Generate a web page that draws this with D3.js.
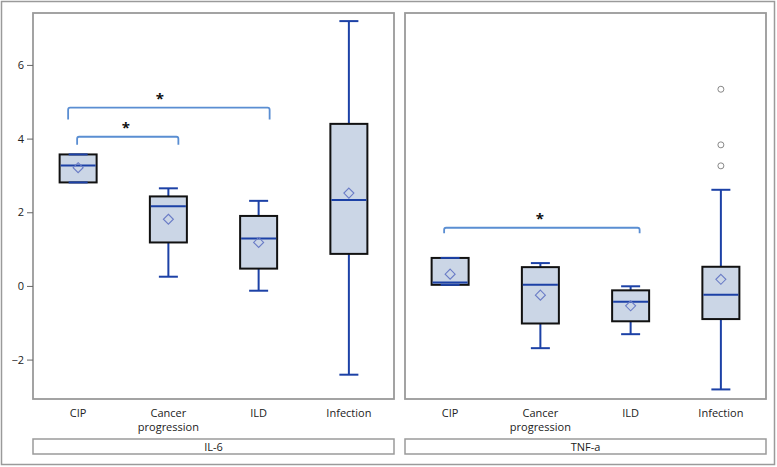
<!DOCTYPE html>
<html><head><meta charset="utf-8">
<script src="https://cdn.jsdelivr.net/npm/d3@7"></script>
<style>body{margin:0;background:#fff}svg{display:block}text{font-family:"Open Sans",Arial,sans-serif;fill:#222}</style>
</head><body><svg id="c" width="777" height="467"></svg>
<script>
const categories = ["CIP","Cancer progression","ILD","Infection"];
const panels = ["IL-6","TNF-a"];
const yTicks = [-2,0,2,4,6];
// [min, q1, median, q3, max, mean]
const il6Stats = [
  [2.81, 2.81, 3.27, 3.57, 3.57, 3.21],
  [0.25, 1.18, 2.16, 2.43, 2.65, 1.81],
  [-0.13, 0.47, 1.29, 1.90, 2.31, 1.18],
  [-2.41, 0.87, 2.33, 4.40, 7.19, 2.52]
];
const tnfStats = [
  [0.03, 0.03, 0.09, 0.76, 0.76, 0.32],
  [-1.69, -1.02, 0.03, 0.51, 0.62, -0.25],
  [-1.31, -0.96, -0.43, -0.12, -0.01, -0.54],
  [-2.81, -0.90, -0.24, 0.52, 2.61, 0.18]
];
const il6Outliers = [[],[],[],[]];
const tnfOutliers = [[],[],[],[5.34, 3.83, 3.26]];
// brackets: [fromCategory, toCategory, topValue, legValue]
const il6Brackets = [[0, 2, 4.84, 4.52], [0, 1, 4.05, 3.83]];
const tnfBrackets = [[0, 2, 1.58, 1.43]];
const bracketLabel = "*";

const svg = d3.select("#c");
const W = 777, H = 467;
const grey = "#9a9a9a";
svg.append("rect").attr("x",1.5).attr("y",1.5).attr("width",W-4).attr("height",H-4)
  .attr("fill","none").attr("stroke",grey).attr("stroke-width",1.5);

const plotTop = 13, plotBottom = 399;
const y = d3.scaleLinear().domain([-3.07, 7.41]).range([plotBottom, plotTop]);
const panelX = [[33, 394], [405, 766]];
const data = [
  {stats: il6Stats, outliers: il6Outliers, brackets: il6Brackets},
  {stats: tnfStats, outliers: tnfOutliers, brackets: tnfBrackets}
];
const whiskColor = "#1c41a6", boxFill = "#cbd6e6", bracketColor = "#5a8ed2", diamondColor = "#6a7cc6";

panels.forEach((pname, pi) => {
  const [x0, x1] = panelX[pi];
  const x = d3.scaleBand().domain(categories).range([x0, x1]).paddingInner(0).paddingOuter(0);
  const g = svg.append("g");
  g.append("rect").attr("x",x0).attr("y",plotTop).attr("width",x1-x0).attr("height",plotBottom-plotTop)
    .attr("fill","#fff").attr("stroke",grey).attr("stroke-width",1.8);
  const bw = 37, cw = 19;
  const d = data[pi];
  d.stats.forEach((s, i) => {
    const cx = x(categories[i]) + x.bandwidth()/2;
    const [mn, q1, md, q3, mx, mean] = s;
    g.append("line").attr("x1",cx).attr("x2",cx).attr("y1",y(q3)).attr("y2",y(mx)).attr("stroke",whiskColor).attr("stroke-width",2);
    g.append("line").attr("x1",cx).attr("x2",cx).attr("y1",y(q1)).attr("y2",y(mn)).attr("stroke",whiskColor).attr("stroke-width",2);
    g.append("rect").attr("x",cx-bw/2).attr("y",y(q3)).attr("width",bw).attr("height",y(q1)-y(q3))
      .attr("fill",boxFill).attr("stroke","#111").attr("stroke-width",2);
    [mn, mx].forEach(v => g.append("line").attr("x1",cx-cw/2).attr("x2",cx+cw/2).attr("y1",y(v)).attr("y2",y(v))
      .attr("stroke",whiskColor).attr("stroke-width",2));
    g.append("line").attr("x1",cx-bw/2+1).attr("x2",cx+bw/2-1).attr("y1",y(md)).attr("y2",y(md)).attr("stroke",whiskColor).attr("stroke-width",2);
    const my = y(mean), r = 5;
    g.append("path").attr("d",`M${cx},${my-r}L${cx+r},${my}L${cx},${my+r}L${cx-r},${my}Z`)
      .attr("fill","none").attr("stroke",diamondColor).attr("stroke-width",1.1);
    d.outliers[i].forEach(v => g.append("circle").attr("cx",cx).attr("cy",y(v)).attr("r",3)
      .attr("fill","none").attr("stroke","#888").attr("stroke-width",1));
  });
  d.brackets.forEach(b => {
    const [a, c, tv, lv] = b;
    const wide = pi===0 && c===2;
    const xa = x(categories[a]) + x.bandwidth()/2 - (wide ? 10 : (pi===0 ? 1 : 6));
    const xc = x(categories[c]) + x.bandwidth()/2 + (wide ? 11 : (pi===0 ? 10 : 9));
    g.append("path").attr("d",`M${xa},${y(lv)}V${y(tv)+2}Q${xa},${y(tv)} ${xa+2},${y(tv)}H${xc-2}Q${xc},${y(tv)} ${xc},${y(tv)+2}V${y(lv)}`)
      .attr("fill","none").attr("stroke",bracketColor).attr("stroke-width",1.8);
    g.append("text").attr("x",(xa+xc)/2 + (wide ? -9 : -2)).attr("y",y(tv)-4).attr("text-anchor","middle")
      .attr("font-size",15).attr("font-weight","bold").style("fill","#111").text(bracketLabel);
  });
  categories.forEach(cname => {
    const cx = x(cname) + x.bandwidth()/2;
    const words = cname === "Cancer progression" ? ["Cancer","progression"] : [cname];
    const t = g.append("text").attr("x",cx).attr("y",417).attr("text-anchor","middle").attr("font-size",11);
    words.forEach((w, k) => t.append("tspan").attr("x",cx).attr("dy",k?14:0).text(w));
  });
  g.append("rect").attr("x",x0).attr("y",439).attr("width",x1-x0).attr("height",15)
    .attr("fill","#fff").attr("stroke",grey).attr("stroke-width",1.5);
  g.append("text").attr("x",(x0+x1)/2).attr("y",451).attr("text-anchor","middle").attr("font-size",11).text(pname);
});

const ax = svg.append("g").attr("transform","translate(33,0)")
  .call(d3.axisLeft(y).tickValues(yTicks).tickSize(6).tickPadding(3).tickFormat(d3.format("d")));
ax.select(".domain").remove();
ax.selectAll(".tick line").attr("stroke","#666");
ax.selectAll(".tick text").attr("font-size",11).style("font-family",'"Open Sans",Arial,sans-serif').style("fill","#222");
</script></body></html>
